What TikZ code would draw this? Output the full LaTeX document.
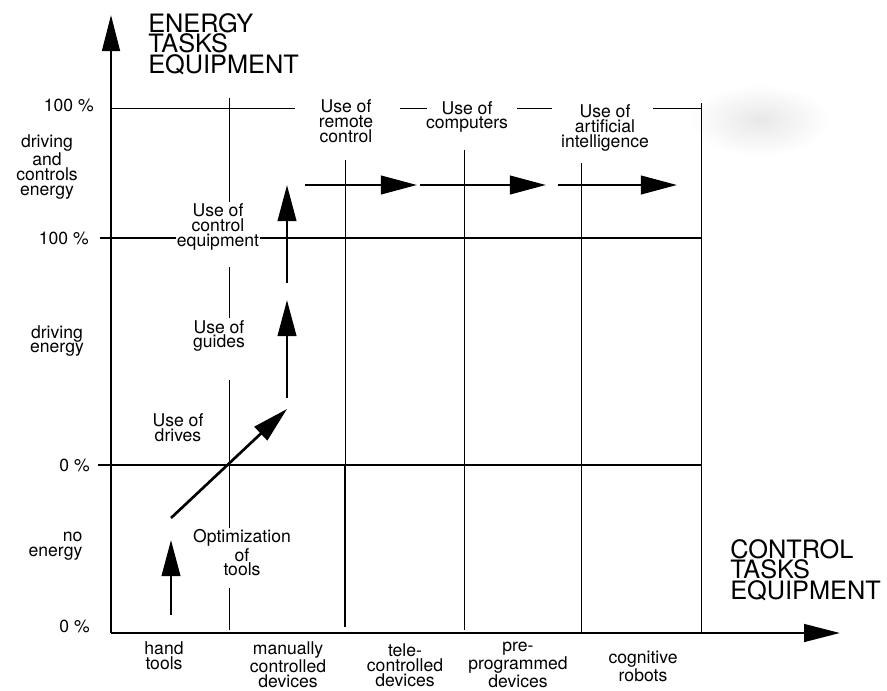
\documentclass[tikz,border=0pt]{standalone}
\usepackage{fontspec}
\setmainfont{TeX Gyre Heros}
\usetikzlibrary{arrows.meta}

\begin{document}
\begin{tikzpicture}[
    x=0.025cm, y=-0.025cm,
    axis/.style={line width=2pt, -{Triangle[length=9mm, width=4.4mm]}},
    grid/.style={line width=0.7pt},
    bold/.style={line width=2pt},
    flow/.style={line width=1.9pt, -{Triangle[length=9mm, width=4.6mm]}},
    label/.style={align=center, inner sep=1pt, font=\fontsize{12.5}{10.6}\selectfont},
    tick/.style={anchor=east, inner sep=0pt, font=\fontsize{12.5}{10.6}\selectfont},
    title/.style={align=left, anchor=north west, inner sep=0pt, font=\fontsize{18}{14.6}\selectfont}
]
\fill[white] (0,0) rectangle (887,690);
\useasboundingbox (0,0) rectangle (887,690);

% Smudge
\shade[inner color=gray!18, outer color=white] (760,120) ellipse [x radius=70, y radius=36];

% Axes
\coordinate (O) at (111,633);
\coordinate (ytip) at (111,15);
\coordinate (xtip) at (840,633);
\draw[axis] (O) -- (ytip);
\draw[axis] (O) -- (xtip);

% Grid lines
\draw[grid] (111,108) -- (295,108) (400,108) -- (427,108) (517,108) -- (552,108) (653,108) -- (701,108);
\draw[grid] (701,103) -- (701,633);
\draw[bold] (100,238) -- (701,238);
\draw[line width=1.8pt] (98,465) -- (701,465);
\draw[grid] (229,98) -- (229,205) (229,267) -- (229,318) (229,380) -- (229,528) (229,588) -- (229,630);
\draw[grid] (345,160) -- (345,465);
\draw[line width=1.4pt] (345,465) -- (345,627);
\draw[grid] (464,150) -- (464,630);
\draw[grid] (581,163) -- (581,633);

% Arrows
\coordinate (h0) at (171,615); \coordinate (h1) at (171,540);
\coordinate (d0) at (171,518); \coordinate (d1) at (287,409);
\coordinate (g0) at (287,398); \coordinate (g1) at (287,300);
\coordinate (c0) at (287,283); \coordinate (c1) at (287,185);
\coordinate (r0) at (305,185); \coordinate (r1) at (417,185);
\coordinate (p0) at (420,185); \coordinate (p1) at (546,185);
\coordinate (a0) at (558,185); \coordinate (a1) at (677,185);
\draw[flow] (h0) -- (h1);
\draw[flow] (d0) -- (d1);
\draw[flow] (g0) -- (g1);
\draw[flow] (c0) -- (c1);
\draw[flow] (r0) -- (r1);
\draw[flow] (p0) -- (p1);
\draw[flow] (a0) -- (a1);

% Axis titles
\node[title] (ytitle) at (148,13) {ENERGY\\TASKS\\EQUIPMENT};
\node[title] (xtitle) at (730,539) {CONTROL\\TASKS\\EQUIPMENT};

% Ticks
\node[tick] (t100a) at (94,105) {100 \%};
\node[tick] (t100b) at (89,238) {100 \%};
\node[tick] (t0a) at (90,465) {0 \%};
\node[tick] (t0b) at (90,626) {0 \%};

% Energy levels
\node[label] (ctrlenergy) at (47,167) {driving\\and\\controls\\energy};
\node[label] (driveenergy) at (57,341) {driving\\energy};
\node[label, align=right, anchor=east] (noenergy) at (84,546) {no\\energy};

% Steps
\node[label, fill=white] (ctrlequip) at (218,227) {Use of\\control\\equipment};
\node[label] (guides) at (219,336) {Use of\\guides};
\node[label] (drives) at (178,428) {Use of\\drives};
\node[label] (optim) at (242,553) {Optimization\\of\\tools};
\node[label] (remote) at (346,121) {Use of\\remote\\control};
\node[label] (computers) at (467,117) {Use of\\computers};
\node[label] (ai) at (605,128) {Use of\\artificial\\intelligence};

% Equipment classes
\node[label] (hand) at (164,656) {hand\\tools};
\node[label] (manual) at (288,665) {manually\\controlled\\devices};
\node[label] (tele) at (405,665) {tele-\\controlled\\devices};
\node[label] (preprog) at (518,665) {pre-\\programmed\\devices};
\node[label] (cognitive) at (643,666) {cognitive\\robots};

\end{tikzpicture}
\end{document}
